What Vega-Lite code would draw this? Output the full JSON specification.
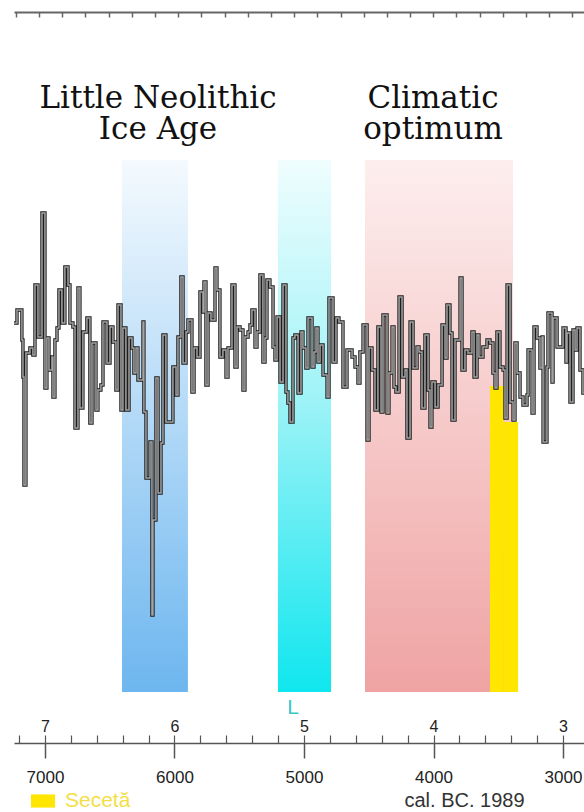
{
  "$schema": "https://vega.github.io/schema/vega-lite/v6.json",
  "width": 570,
  "height": 731,
  "autosize": "none",
  "padding": {"left": 14, "top": 12, "right": 0, "bottom": 69},
  "background": "white",
  "config": {
    "view": {"stroke": null},
    "axis": {"labelFont": "Liberation Sans", "titleFont": "Liberation Sans", "grid": false, "labelFlush": false}
  },
  "datasets": {
    "series": [
      {"year": 7239, "v": 42.0}, {"year": 7216, "v": 43.3}, {"year": 7178, "v": 40.3}, {"year": 7170, "v": 36.6},
      {"year": 7162, "v": 25.8}, {"year": 7147, "v": 39.0}, {"year": 7116, "v": 39.5}, {"year": 7093, "v": 38.8},
      {"year": 7077, "v": 45.8}, {"year": 7054, "v": 40.6}, {"year": 7023, "v": 53.0}, {"year": 7000, "v": 35.5},
      {"year": 6985, "v": 40.5}, {"year": 6969, "v": 37.3}, {"year": 6946, "v": 38.6}, {"year": 6938, "v": 34.6},
      {"year": 6923, "v": 40.3}, {"year": 6907, "v": 41.5}, {"year": 6892, "v": 45.3}, {"year": 6869, "v": 42.0},
      {"year": 6846, "v": 47.6}, {"year": 6822, "v": 45.8}, {"year": 6807, "v": 42.0}, {"year": 6784, "v": 41.6},
      {"year": 6768, "v": 31.5}, {"year": 6745, "v": 45.5}, {"year": 6730, "v": 33.5}, {"year": 6707, "v": 41.1},
      {"year": 6676, "v": 42.5}, {"year": 6653, "v": 32.0}, {"year": 6637, "v": 40.0}, {"year": 6606, "v": 33.3},
      {"year": 6591, "v": 35.3}, {"year": 6568, "v": 35.8}, {"year": 6552, "v": 42.1}, {"year": 6521, "v": 38.0},
      {"year": 6498, "v": 41.6}, {"year": 6475, "v": 40.1}, {"year": 6452, "v": 35.3}, {"year": 6436, "v": 43.8},
      {"year": 6413, "v": 33.3}, {"year": 6398, "v": 41.5}, {"year": 6375, "v": 33.3}, {"year": 6351, "v": 40.5},
      {"year": 6328, "v": 39.5}, {"year": 6313, "v": 37.0}, {"year": 6297, "v": 39.5}, {"year": 6282, "v": 36.3},
      {"year": 6243, "v": 42.1}, {"year": 6236, "v": 33.1}, {"year": 6220, "v": 26.5}, {"year": 6189, "v": 30.1},
      {"year": 6174, "v": 12.8}, {"year": 6166, "v": 22.3}, {"year": 6143, "v": 36.5}, {"year": 6127, "v": 25.0},
      {"year": 6104, "v": 30.0}, {"year": 6089, "v": 40.8}, {"year": 6066, "v": 32.1}, {"year": 6012, "v": 37.6},
      {"year": 5988, "v": 34.8}, {"year": 5973, "v": 40.6}, {"year": 5950, "v": 46.6}, {"year": 5934, "v": 38.0},
      {"year": 5911, "v": 41.1}, {"year": 5896, "v": 42.3}, {"year": 5865, "v": 35.1}, {"year": 5849, "v": 39.5},
      {"year": 5826, "v": 38.6}, {"year": 5803, "v": 45.1}, {"year": 5780, "v": 43.1}, {"year": 5772, "v": 46.1},
      {"year": 5757, "v": 35.8}, {"year": 5741, "v": 43.0}, {"year": 5718, "v": 42.3}, {"year": 5687, "v": 47.5},
      {"year": 5672, "v": 45.3}, {"year": 5649, "v": 38.6}, {"year": 5626, "v": 39.3}, {"year": 5602, "v": 36.6},
      {"year": 5587, "v": 39.5}, {"year": 5556, "v": 45.8}, {"year": 5533, "v": 37.6}, {"year": 5517, "v": 41.6},
      {"year": 5494, "v": 41.3}, {"year": 5471, "v": 35.3}, {"year": 5456, "v": 40.6}, {"year": 5432, "v": 41.1},
      {"year": 5417, "v": 41.8}, {"year": 5402, "v": 43.3}, {"year": 5378, "v": 39.6}, {"year": 5363, "v": 41.1},
      {"year": 5340, "v": 46.8}, {"year": 5317, "v": 38.1}, {"year": 5301, "v": 40.5}, {"year": 5286, "v": 46.3},
      {"year": 5263, "v": 45.6}, {"year": 5239, "v": 39.6}, {"year": 5224, "v": 38.3}, {"year": 5208, "v": 42.6},
      {"year": 5185, "v": 36.1}, {"year": 5162, "v": 45.8}, {"year": 5139, "v": 35.1}, {"year": 5124, "v": 34.0},
      {"year": 5108, "v": 32.1}, {"year": 5085, "v": 40.5}, {"year": 5070, "v": 40.8}, {"year": 5046, "v": 35.0},
      {"year": 5023, "v": 41.1}, {"year": 5008, "v": 39.5}, {"year": 4985, "v": 37.5}, {"year": 4969, "v": 42.5},
      {"year": 4938, "v": 37.6}, {"year": 4923, "v": 39.1}, {"year": 4907, "v": 41.5}, {"year": 4892, "v": 38.1},
      {"year": 4876, "v": 39.8}, {"year": 4853, "v": 36.8}, {"year": 4822, "v": 34.6}, {"year": 4807, "v": 44.5},
      {"year": 4776, "v": 38.1}, {"year": 4753, "v": 42.5}, {"year": 4730, "v": 42.1}, {"year": 4699, "v": 35.6},
      {"year": 4668, "v": 39.3}, {"year": 4629, "v": 38.6}, {"year": 4606, "v": 37.6}, {"year": 4583, "v": 36.0},
      {"year": 4568, "v": 39.1}, {"year": 4544, "v": 41.8}, {"year": 4513, "v": 30.3}, {"year": 4498, "v": 39.5},
      {"year": 4475, "v": 37.3}, {"year": 4452, "v": 33.3}, {"year": 4429, "v": 41.6}, {"year": 4405, "v": 33.1},
      {"year": 4390, "v": 42.8}, {"year": 4359, "v": 33.0}, {"year": 4344, "v": 37.0}, {"year": 4320, "v": 41.6},
      {"year": 4305, "v": 35.6}, {"year": 4290, "v": 35.1}, {"year": 4266, "v": 44.6}, {"year": 4243, "v": 36.6},
      {"year": 4220, "v": 37.3}, {"year": 4205, "v": 30.5}, {"year": 4181, "v": 42.1}, {"year": 4158, "v": 37.5},
      {"year": 4127, "v": 39.6}, {"year": 4112, "v": 39.1}, {"year": 4089, "v": 33.5}, {"year": 4066, "v": 40.8},
      {"year": 4042, "v": 35.3}, {"year": 4027, "v": 31.6}, {"year": 4012, "v": 36.1}, {"year": 3988, "v": 33.6},
      {"year": 3965, "v": 35.8}, {"year": 3934, "v": 41.8}, {"year": 3911, "v": 38.5}, {"year": 3896, "v": 43.8},
      {"year": 3873, "v": 41.0}, {"year": 3857, "v": 32.3}, {"year": 3834, "v": 40.3}, {"year": 3795, "v": 46.5},
      {"year": 3780, "v": 37.3}, {"year": 3757, "v": 39.3}, {"year": 3734, "v": 39.0}, {"year": 3703, "v": 41.1},
      {"year": 3687, "v": 36.6}, {"year": 3664, "v": 40.8}, {"year": 3649, "v": 38.6}, {"year": 3618, "v": 39.6},
      {"year": 3587, "v": 40.3}, {"year": 3564, "v": 40.0}, {"year": 3541, "v": 37.0}, {"year": 3525, "v": 35.5},
      {"year": 3510, "v": 41.1}, {"year": 3487, "v": 37.6}, {"year": 3463, "v": 37.3}, {"year": 3448, "v": 32.5},
      {"year": 3432, "v": 45.8}, {"year": 3409, "v": 34.1}, {"year": 3386, "v": 32.3}, {"year": 3371, "v": 40.0},
      {"year": 3355, "v": 37.0}, {"year": 3332, "v": 34.6}, {"year": 3309, "v": 33.8}, {"year": 3278, "v": 34.8},
      {"year": 3270, "v": 39.3}, {"year": 3239, "v": 33.0}, {"year": 3224, "v": 41.6}, {"year": 3201, "v": 40.5},
      {"year": 3178, "v": 37.5}, {"year": 3162, "v": 40.6}, {"year": 3154, "v": 30.1}, {"year": 3124, "v": 37.6},
      {"year": 3116, "v": 43.0}, {"year": 3085, "v": 36.1}, {"year": 3077, "v": 42.5}, {"year": 3046, "v": 39.6},
      {"year": 3000, "v": 41.5}, {"year": 2977, "v": 38.1}, {"year": 2969, "v": 41.0}, {"year": 2946, "v": 34.1},
      {"year": 2923, "v": 41.3}, {"year": 2907, "v": 39.3}, {"year": 2892, "v": 41.5}, {"year": 2869, "v": 37.3},
      {"year": 2846, "v": 35.0}, {"year": 2838, "v": 35.0}
    ],
    "bands": [
      {"name": "blue", "start": 6405, "end": 5896, "top": 58.3, "bottom": 5.1},
      {"name": "cyan", "start": 5201, "end": 4791, "top": 58.3, "bottom": 5.1},
      {"name": "pink", "start": 4529, "end": 3386, "top": 58.3, "bottom": 5.1}
    ],
    "drought": [
      {"type": "Secetă", "start": 3564, "end": 3457, "top": 35.7, "bottom": 5.1},
      {"type": "Secetă", "start": 3457, "end": 3347, "top": 32.1, "bottom": 5.1}
    ],
    "titles": [
      {"year": 6127, "v": 63.5, "label": "Little Neolithic\nIce Age"},
      {"year": 4004, "v": 63.5, "label": "Climatic\noptimum"}
    ],
    "marker": [
      {"year": 5085, "v": 2.9, "label": "L"}
    ]
  },
  "resolve": {"axis": {"x": "independent"}},
  "layer": [
    {
      "data": {"name": "bands"},
      "transform": [{"filter": "datum.name === 'blue'"}],
      "mark": {"type": "rect", "color": {"gradient": "linear", "x1": 0, "y1": 0, "x2": 0, "y2": 1,
        "stops": [{"offset": 0, "color": "#f4fafe"}, {"offset": 1, "color": "#6db6ef"}]}},
      "encoding": {
        "x": {"field": "start", "type": "quantitative",
          "scale": {"domain": [2838, 7239], "reverse": true, "nice": false, "zero": false},
          "axis": {"orient": "top", "values": [7224, 7045, 6866, 6687, 6508, 6329, 6150, 5971, 5792, 5613, 5434, 5255, 5076, 4897, 4718, 4539, 4360, 4181, 4002, 3823, 3644, 3465, 3286, 3107, 2928],
            "tickSize": -5, "labels": false, "title": null, "domainColor": "#666", "domainWidth": 2, "tickColor": "#666", "tickWidth": 1.5}},
        "x2": {"field": "end"},
        "y": {"field": "top", "type": "quantitative", "scale": {"domain": [0, 73.1], "nice": false, "zero": false}, "axis": null},
        "y2": {"field": "bottom"}
      }
    },
    {
      "data": {"name": "bands"},
      "transform": [{"filter": "datum.name === 'cyan'"}],
      "mark": {"type": "rect", "color": {"gradient": "linear", "x1": 0, "y1": 0, "x2": 0, "y2": 1,
        "stops": [{"offset": 0, "color": "#f0fdfe"}, {"offset": 0.45, "color": "#9ef3f7"}, {"offset": 1, "color": "#10e6ee"}]}},
      "encoding": {
        "x": {"field": "start", "type": "quantitative",
          "axis": {"orient": "bottom", "values": [7200, 7000, 6800, 6600, 6400, 6200, 6000, 5800, 5600, 5400, 5200, 5000, 4800, 4600, 4400, 4200, 4000, 3800, 3600, 3400, 3200, 3000, 2800],
            "tickSize": -8, "labels": false, "domain": false, "title": null, "tickColor": "#555", "tickWidth": 1.2}},
        "x2": {"field": "end"},
        "y": {"field": "top", "type": "quantitative", "axis": null},
        "y2": {"field": "bottom"}
      }
    },
    {
      "data": {"name": "bands"},
      "transform": [{"filter": "datum.name === 'pink'"}],
      "mark": {"type": "rect", "color": {"gradient": "linear", "x1": 0, "y1": 0, "x2": 0, "y2": 1,
        "stops": [{"offset": 0, "color": "#fdeeee"}, {"offset": 1, "color": "#efa3a3"}]}},
      "encoding": {
        "x": {"field": "start", "type": "quantitative",
          "axis": {"orient": "bottom", "values": [7000, 6000, 5000, 4000, 3000], "ticks": false, "tickSize": 0, "domain": false,
            "labelExpr": "datum.value / 1000", "labelPadding": -12, "labelBaseline": "alphabetic", "labelDx": 2,
            "labelFontSize": 16, "labelColor": "#222", "title": null}},
        "x2": {"field": "end"},
        "y": {"field": "top", "type": "quantitative", "axis": null},
        "y2": {"field": "bottom"}
      }
    },
    {
      "data": {"name": "drought"},
      "mark": {"type": "rect"},
      "encoding": {
        "x": {"field": "start", "type": "quantitative", "axis": null},
        "x2": {"field": "end"},
        "y": {"field": "top", "type": "quantitative", "axis": null},
        "y2": {"field": "bottom"},
        "color": {"field": "type", "type": "nominal", "scale": {"range": ["#ffe600"]},
          "legend": {"orient": "none", "legendX": 17, "legendY": 777, "title": null, "padding": 0,
            "symbolType": "M-1,-0.55H1V0.55H-1Z", "symbolSize": 576, "symbolStrokeWidth": 0,
            "labelFontSize": 21, "labelFont": "Liberation Sans", "labelColor": "#f3df45", "labelOffset": 10}}
      }
    },
    {
      "data": {"name": "series"},
      "mark": {"type": "line", "interpolate": "step-after", "color": "#1e1e1e", "strokeWidth": 3.4, "strokeCap": "butt"},
      "encoding": {
        "x": {"field": "year", "type": "quantitative",
          "axis": {"orient": "bottom", "values": [7000, 6000, 5000, 4000, 3000], "format": "d", "tickSize": 15,
            "domainColor": "#555", "domainWidth": 1.5, "tickColor": "#555", "tickWidth": 1.5,
            "labelFontSize": 17, "labelPadding": 11, "labelColor": "#222",
            "title": "cal. BC. 1989", "titleX": 450, "titleY": 57, "titleFontSize": 20, "titleFontWeight": "normal",
            "titleColor": "#333", "titleBaseline": "middle", "titleAlign": "center", "titleAnchor": null}},
        "y": {"field": "v", "type": "quantitative", "axis": null},
        "order": {"field": "year", "sort": "descending"}
      }
    },
    {
      "data": {"name": "series"},
      "mark": {"type": "line", "interpolate": "step-after", "color": "#a3a3a3", "strokeWidth": 1.5, "strokeCap": "butt"},
      "encoding": {
        "x": {"field": "year", "type": "quantitative", "axis": null},
        "y": {"field": "v", "type": "quantitative", "axis": null},
        "order": {"field": "year", "sort": "descending"}
      }
    },
    {
      "data": {"name": "titles"},
      "mark": {"type": "text", "font": "DejaVu Serif", "fontSize": 31, "lineHeight": 31, "lineBreak": "\n", "align": "center", "baseline": "alphabetic", "color": "#111"},
      "encoding": {
        "x": {"field": "year", "type": "quantitative", "axis": null},
        "y": {"field": "v", "type": "quantitative", "axis": null},
        "text": {"field": "label"}
      }
    },
    {
      "data": {"name": "marker"},
      "mark": {"type": "text", "font": "Liberation Sans", "fontSize": 21, "align": "center", "baseline": "alphabetic", "color": "#3cc6c6"},
      "encoding": {
        "x": {"field": "year", "type": "quantitative", "axis": null},
        "y": {"field": "v", "type": "quantitative", "axis": null},
        "text": {"field": "label"}
      }
    }
  ]
}
